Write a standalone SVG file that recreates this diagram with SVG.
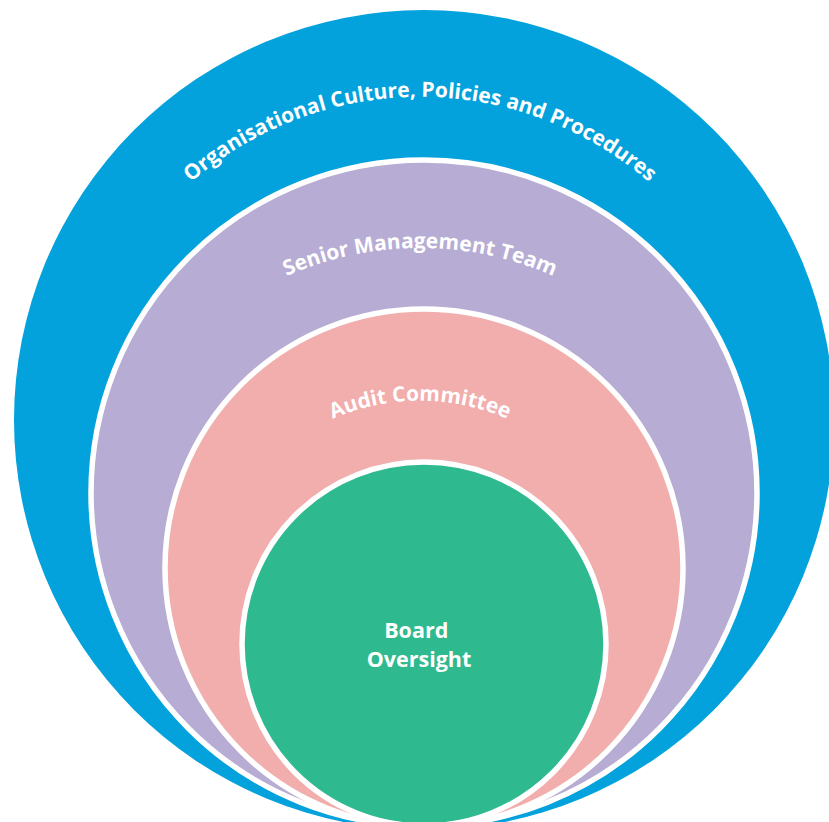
<svg xmlns="http://www.w3.org/2000/svg" width="829" height="822" viewBox="0 0 829 822">
  <style>
    .ring { stroke: #ffffff; stroke-width: 5.5; }
    .label { fill: #ffffff; font-family: "Open Sans", "Liberation Sans", sans-serif; font-weight: 700; }
    .arc-label { font-size: 21px; }
    .centre-label { font-size: 21.5px; }
  </style>
  <defs>
    <!-- baseline arcs for the curved ring labels (centre x 420) -->
    <path id="arc-culture" d="M 75.3 386.2 A 350 350 0 0 1 764.7 386.2" fill="none"/>
    <path id="arc-smt" d="M 95 520.7 A 330 330 0 0 1 745 520.7" fill="none"/>
    <path id="arc-audit" d="M 203.3 582.8 A 220 220 0 0 1 636.7 582.8" fill="none"/>
  </defs>

  <rect width="829" height="822" fill="#ffffff"/>

  <g id="culture">
    <circle cx="424" cy="420" r="410" fill="#03A2DC"/>
    <text class="label arc-label" text-anchor="middle">
      <textPath href="#arc-culture" startOffset="50%">Organisational Culture, Policies and Procedures</textPath>
    </text>
  </g>

  <g id="senior-management">
    <circle class="ring" cx="424" cy="493" r="333" fill="#B7ACD3"/>
    <text class="label arc-label" text-anchor="middle">
      <textPath href="#arc-smt" startOffset="50%">Senior Management Team</textPath>
    </text>
  </g>

  <g id="audit-committee">
    <circle class="ring" cx="424" cy="568" r="259" fill="#F2ADAD"/>
    <text class="label arc-label" text-anchor="middle">
      <textPath href="#arc-audit" startOffset="50%">Audit Committee</textPath>
    </text>
  </g>

  <g id="board-oversight">
    <circle class="ring" cx="424" cy="644" r="182" fill="#2FB98E"/>
    <text class="label centre-label" text-anchor="middle">
      <tspan x="419" y="638">Board</tspan>
      <tspan x="419" y="667">Oversight</tspan>
    </text>
  </g>
</svg>
